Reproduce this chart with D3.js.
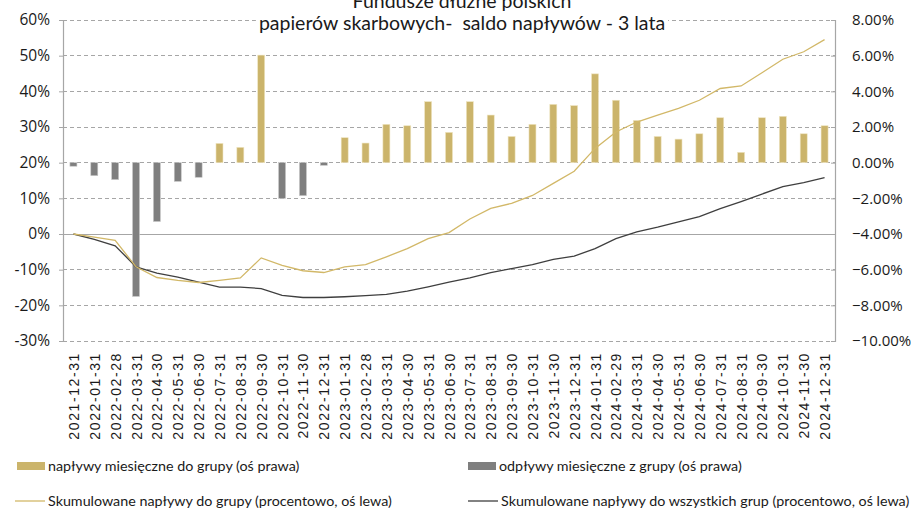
<!DOCTYPE html>
<html>
<head>
<meta charset="utf-8">
<script src="https://cdn.jsdelivr.net/npm/d3@7/dist/d3.min.js"></script>
<style>
  html, body { margin: 0; padding: 0; background: #fff; }
  svg { display: block; }
</style>
</head>
<body>
<svg id="chart" width="911" height="511"></svg>
<script>
// Month-end dates
const dates = [
  "2021-12-31","2022-01-31","2022-02-28","2022-03-31","2022-04-30","2022-05-31","2022-06-30",
  "2022-07-31","2022-08-31","2022-09-30","2022-10-31","2022-11-30","2022-12-31",
  "2023-01-31","2023-02-28","2023-03-31","2023-04-30","2023-05-31","2023-06-30",
  "2023-07-31","2023-08-31","2023-09-30","2023-10-31","2023-11-30","2023-12-31",
  "2024-01-31","2024-02-29","2024-03-31","2024-04-30","2024-05-31","2024-06-30",
  "2024-07-31","2024-08-31","2024-09-30","2024-10-31","2024-11-30","2024-12-31"
];

// Monthly net flows into the group, % (right axis)
const monthlyFlows = [
  -0.20, -0.73, -0.95, -7.50, -3.30, -1.05, -0.82,
   1.08,  0.86,  6.03, -2.00, -1.85, -0.15,
   1.40,  1.10,  2.15,  2.07,  3.42,  1.70,
   3.42,  2.67,  1.47,  2.15,  3.27,  3.20,
   4.98,  3.50,  2.37,  1.47,  1.32,  1.62,
   2.52,  0.58,  2.52,  2.60,  1.62,  2.07
];

// Cumulative flows into the group, % (left axis)
const cumGroup = [
    0.0,  -0.9,  -1.8,  -9.2, -12.2, -13.0, -13.6,
  -13.0, -12.3,  -6.7,  -8.8, -10.3, -10.8,
   -9.2,  -8.6,  -6.4,  -4.1,  -1.3,   0.4,
    4.2,   7.2,   8.6,  10.8,  14.2,  17.6,
   24.0,  28.6,  31.4,  33.3,  35.2,  37.5,
   40.8,  41.5,  45.2,  49.0,  51.1,  54.5
];

// Cumulative flows into all groups, % (left axis)
const cumAll = [
    0.0,  -1.5,  -3.3,  -9.2, -11.0, -12.1, -13.5,
  -14.9, -14.9, -15.3, -17.2, -17.8, -17.8,
  -17.6, -17.3, -16.9, -16.0, -14.8, -13.5,
  -12.3, -10.8,  -9.7,  -8.6,  -7.1,  -6.2,
   -4.1,  -1.3,   0.6,   1.9,   3.4,   4.9,
    7.1,   9.1,  11.2,  13.3,  14.4,  15.8
];

const leftTicks = [-30, -20, -10, 0, 10, 20, 30, 40, 50, 60];
const rightTicks = [-10, -8, -6, -4, -2, 0, 2, 4, 6, 8];

const titleLines = ["Fundusze dłużne polskich", "papierów skarbowych-  saldo napływów - 3 lata"];
const legendLabels = [
  "napływy miesięczne do grupy (oś prawa)",
  "odpływy miesięczne z grupy (oś prawa)",
  "Skumulowane napływy do grupy (procentowo, oś lewa)",
  "Skumulowane napływy do wszystkich grup (procentowo, oś lewa)"
];

const GOLD_BAR = "#CBB46B";
const GRAY_BAR = "#7F7F7F";
const GOLD_LINE = "#D2B868";
const DARK_LINE = "#3F3F3F";
const GRID = "#A6A6A6";
const TEXT = "#1a1a1a";

const svg = d3.select("#chart");
const plot = { left: 63, right: 835, top: 20, bottom: 341 };

const x = d3.scaleBand().domain(dates).range([plot.left, plot.right]).padding(0);
const yL = d3.scaleLinear().domain([-30, 60]).range([plot.bottom, plot.top]);
const yR = d3.scaleLinear().domain([-10, 8]).range([plot.bottom, plot.top]);
const cx = d => x(d) + x.bandwidth() / 2;

// Horizontal gridlines (dashed), with the left-axis zero line solid
const grid = svg.append("g");
grid.selectAll("line")
  .data(leftTicks)
  .join("line")
  .attr("x1", plot.left).attr("x2", plot.right)
  .attr("y1", d => yL(d)).attr("y2", d => yL(d))
  .attr("stroke", GRID)
  .attr("stroke-width", 1)
  .attr("stroke-dasharray", d => d === 0 ? null : "4,3")
  .attr("shape-rendering", "crispEdges");

// Monthly bars (right axis)
const barW = 7;
svg.append("g").selectAll("rect")
  .data(dates.map((d, i) => ({ d, v: monthlyFlows[i] })))
  .join("rect")
  .attr("x", p => cx(p.d) - barW / 2)
  .attr("width", barW)
  .attr("y", p => Math.min(yR(p.v), yR(0)))
  .attr("height", p => Math.abs(yR(p.v) - yR(0)))
  .attr("fill", p => p.v >= 0 ? GOLD_BAR : GRAY_BAR)
  .attr("stroke", p => p.v >= 0 ? "#EFE5C2" : "#C8C8C8")
  .attr("stroke-width", 0.6);

// Cumulative lines (left axis)
const line = d3.line().x((v, i) => cx(dates[i])).y(v => yL(v));
svg.append("path").datum(cumAll)
  .attr("d", line).attr("fill", "none")
  .attr("stroke", DARK_LINE).attr("stroke-width", 1.3);
svg.append("path").datum(cumGroup)
  .attr("d", line).attr("fill", "none")
  .attr("stroke", GOLD_LINE).attr("stroke-width", 1.3);

// Axes
const axisFont = "'Open Sans', sans-serif";
const left = svg.append("g")
  .attr("transform", `translate(${plot.left},0)`)
  .call(d3.axisLeft(yL).tickValues(leftTicks).tickSize(4).tickPadding(9)
    .tickFormat(d => d + "%"));
const right = svg.append("g")
  .attr("transform", `translate(${plot.right},0)`)
  .call(d3.axisRight(yR).tickValues(rightTicks).tickSize(-4).tickPadding(17)
    .tickFormat(d => d3.format(".2f")(d) + "%"));
[left, right].forEach(g => {
  g.select(".domain").attr("stroke", GRID).attr("stroke-width", 1.2);
  g.selectAll(".tick line").attr("stroke", GRID);
  g.selectAll(".tick text")
    .attr("fill", TEXT)
    .style("font-family", axisFont)
    .style("font-size", "15.5px");
});
right.selectAll(".tick text").style("font-size", "15px");

// Category labels, rotated
svg.append("g").selectAll("text")
  .data(dates)
  .join("text")
  .attr("transform", d => `translate(${cx(d) + 5.5},352) rotate(-90)`)
  .attr("text-anchor", "end")
  .attr("fill", TEXT)
  .style("font-family", "'Liberation Sans', Arial, sans-serif")
  .style("font-size", "14px")
  .style("letter-spacing", "1.6px")
  .text(d => d);

// Title with a white backing over the top gridline
const titleFont = "Lato, sans-serif";
const title = svg.append("g");
const tBg = title.append("rect").attr("fill", "#fff");
const tText = title.selectAll("text")
  .data(titleLines)
  .join("text")
  .attr("x", 462)
  .attr("y", (d, i) => 8 + i * 22)
  .attr("text-anchor", "middle")
  .attr("fill", TEXT)
  .style("font-family", titleFont)
  .style("font-size", "19.5px")
  .style("white-space", "pre")
  .text(d => d);
const tb = tText.nodes()[1].getBBox();
tBg.attr("x", tb.x - 3).attr("y", 0).attr("width", tb.width + 6).attr("height", 36);

// Legend
const legFont = "Lato, sans-serif";
const legend = svg.append("g");
const legItems = [
  { type: "rect", color: GOLD_BAR, sx: 17, y: 466, label: legendLabels[0] },
  { type: "rect", color: GRAY_BAR, sx: 468, y: 466, label: legendLabels[1] },
  { type: "line", color: GOLD_LINE, sx: 15, y: 501, label: legendLabels[2] },
  { type: "line", color: DARK_LINE, sx: 468, y: 501, label: legendLabels[3] }
];
legItems.forEach(it => {
  if (it.type === "rect") {
    legend.append("rect")
      .attr("x", it.sx).attr("y", it.y - 4).attr("width", 28).attr("height", 8)
      .attr("fill", it.color);
  } else {
    legend.append("line")
      .attr("x1", it.sx).attr("x2", it.sx + 30)
      .attr("y1", it.y).attr("y2", it.y)
      .attr("stroke", it.color).attr("stroke-width", 1.3);
  }
  legend.append("text")
    .attr("x", it.sx + (it.type === "rect" ? 31 : 33))
    .attr("y", it.y + 5)
    .attr("fill", TEXT)
    .style("font-family", legFont)
    .style("font-size", "14.3px")
    .text(it.label);
});
</script>
</body>
</html>
